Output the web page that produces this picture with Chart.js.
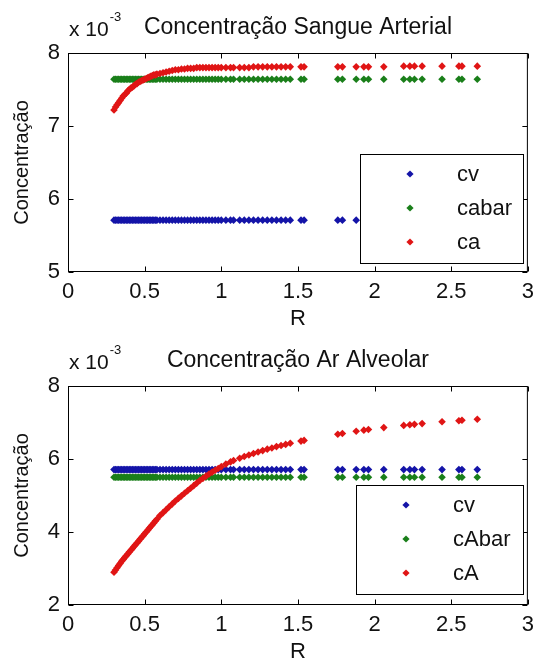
<!DOCTYPE html>
<html>
<head>
<meta charset="utf-8">
<script src="https://cdn.jsdelivr.net/npm/chart.js@4"></script>
<style>
  html, body { margin: 0; padding: 0; background: #fff; }
  canvas { position: absolute; left: 0; }
</style>
</head>
<body>
<canvas id="arterial" width="541" height="333" style="top:0"></canvas>
<canvas id="alveolar" width="541" height="333" style="top:333px"></canvas>
<script>
// R values (same sample for both plots)
const R = [
  0.30, 0.31, 0.32, 0.33, 0.34, 0.35, 0.36, 0.37, 0.38, 0.39,
  0.40, 0.41, 0.42, 0.43, 0.44, 0.45, 0.46, 0.47, 0.48, 0.49,
  0.50, 0.51, 0.52, 0.53, 0.54, 0.55, 0.56, 0.57, 0.58, 0.60,
  0.62, 0.64, 0.66, 0.68, 0.70, 0.72, 0.74, 0.76, 0.78, 0.80,
  0.82, 0.84, 0.86, 0.88, 0.90, 0.92, 0.94, 0.96, 0.98, 1.00,
  1.03, 1.06, 1.08, 1.12, 1.15, 1.18, 1.21, 1.24, 1.27, 1.30,
  1.33, 1.36, 1.39, 1.42, 1.45, 1.52, 1.54, 1.76, 1.79, 1.88,
  1.93, 1.96, 2.06, 2.19, 2.23, 2.26, 2.31, 2.44, 2.55, 2.57,
  2.67
];

// concentrations, all in units of 10^-3
const cvArterial = [
  5.71, 5.71, 5.71, 5.71, 5.71, 5.71, 5.71, 5.71, 5.71, 5.71,
  5.71, 5.71, 5.71, 5.71, 5.71, 5.71, 5.71, 5.71, 5.71, 5.71,
  5.71, 5.71, 5.71, 5.71, 5.71, 5.71, 5.71, 5.71, 5.71, 5.71,
  5.71, 5.71, 5.71, 5.71, 5.71, 5.71, 5.71, 5.71, 5.71, 5.71,
  5.71, 5.71, 5.71, 5.71, 5.71, 5.71, 5.71, 5.71, 5.71, 5.71,
  5.71, 5.71, 5.71, 5.71, 5.71, 5.71, 5.71, 5.71, 5.71, 5.71,
  5.71, 5.71, 5.71, 5.71, 5.71, 5.71, 5.71, 5.71, 5.71, 5.71,
  5.71, 5.71, 5.71, 5.71, 5.71, 5.71, 5.71, 5.71, 5.71, 5.71,
  5.71
];
const cabar = [
  7.64, 7.64, 7.64, 7.64, 7.64, 7.64, 7.64, 7.64, 7.64, 7.64,
  7.64, 7.64, 7.64, 7.64, 7.64, 7.64, 7.64, 7.64, 7.64, 7.64,
  7.64, 7.64, 7.64, 7.64, 7.64, 7.64, 7.64, 7.64, 7.64, 7.64,
  7.64, 7.64, 7.64, 7.64, 7.64, 7.64, 7.64, 7.64, 7.64, 7.64,
  7.64, 7.64, 7.64, 7.64, 7.64, 7.64, 7.64, 7.64, 7.64, 7.64,
  7.64, 7.64, 7.64, 7.64, 7.64, 7.64, 7.64, 7.64, 7.64, 7.64,
  7.64, 7.64, 7.64, 7.64, 7.64, 7.64, 7.64, 7.64, 7.64, 7.64,
  7.64, 7.64, 7.64, 7.64, 7.64, 7.64, 7.64, 7.64, 7.64, 7.64,
  7.64
];
const ca = [
  7.22, 7.26, 7.29, 7.32, 7.35, 7.38, 7.41, 7.43, 7.45, 7.48,
  7.50, 7.52, 7.53, 7.55, 7.57, 7.58, 7.60, 7.61, 7.62, 7.63,
  7.64, 7.65, 7.66, 7.67, 7.68, 7.69, 7.70, 7.70, 7.71, 7.72,
  7.73, 7.74, 7.75, 7.76, 7.77, 7.77, 7.78, 7.78, 7.79, 7.79,
  7.79, 7.80, 7.80, 7.80, 7.80, 7.80, 7.80, 7.80, 7.80, 7.80,
  7.80, 7.80, 7.80, 7.80, 7.80, 7.80, 7.81, 7.81, 7.81, 7.81,
  7.81, 7.81, 7.81, 7.81, 7.81, 7.81, 7.81, 7.81, 7.81, 7.81,
  7.81, 7.81, 7.81, 7.82, 7.82, 7.82, 7.82, 7.82, 7.82, 7.82,
  7.82
];
const cvAlveolar = [
  5.71, 5.71, 5.71, 5.71, 5.71, 5.71, 5.71, 5.71, 5.71, 5.71,
  5.71, 5.71, 5.71, 5.71, 5.71, 5.71, 5.71, 5.71, 5.71, 5.71,
  5.71, 5.71, 5.71, 5.71, 5.71, 5.71, 5.71, 5.71, 5.71, 5.71,
  5.71, 5.71, 5.71, 5.71, 5.71, 5.71, 5.71, 5.71, 5.71, 5.71,
  5.71, 5.71, 5.71, 5.71, 5.71, 5.71, 5.71, 5.71, 5.71, 5.71,
  5.71, 5.71, 5.71, 5.71, 5.71, 5.71, 5.71, 5.71, 5.71, 5.71,
  5.71, 5.71, 5.71, 5.71, 5.71, 5.71, 5.71, 5.71, 5.71, 5.71,
  5.71, 5.71, 5.71, 5.71, 5.71, 5.71, 5.71, 5.71, 5.71, 5.71,
  5.71
];
const cAbar = [
  5.50, 5.50, 5.50, 5.50, 5.50, 5.50, 5.50, 5.50, 5.50, 5.50,
  5.50, 5.50, 5.50, 5.50, 5.50, 5.50, 5.50, 5.50, 5.50, 5.50,
  5.50, 5.50, 5.50, 5.50, 5.50, 5.50, 5.50, 5.50, 5.50, 5.50,
  5.50, 5.50, 5.50, 5.50, 5.50, 5.50, 5.50, 5.50, 5.50, 5.50,
  5.50, 5.50, 5.50, 5.50, 5.50, 5.50, 5.50, 5.50, 5.50, 5.50,
  5.50, 5.50, 5.50, 5.50, 5.50, 5.50, 5.50, 5.50, 5.50, 5.50,
  5.50, 5.50, 5.50, 5.50, 5.50, 5.50, 5.50, 5.50, 5.50, 5.50,
  5.50, 5.50, 5.50, 5.50, 5.50, 5.50, 5.50, 5.50, 5.50, 5.50,
  5.50
];
const cA = [
  2.90, 2.96, 3.02, 3.08, 3.14, 3.20, 3.25, 3.30, 3.35, 3.40,
  3.45, 3.50, 3.55, 3.60, 3.65, 3.70, 3.75, 3.80, 3.85, 3.90,
  3.95, 4.00, 4.05, 4.10, 4.15, 4.20, 4.25, 4.30, 4.35, 4.45,
  4.53, 4.61, 4.69, 4.77, 4.85, 4.92, 4.99, 5.06, 5.13, 5.20,
  5.27, 5.34, 5.41, 5.47, 5.53, 5.59, 5.64, 5.69, 5.74, 5.79,
  5.86, 5.92, 5.96, 6.02, 6.07, 6.11, 6.15, 6.19, 6.23, 6.27,
  6.30, 6.34, 6.37, 6.40, 6.43, 6.49, 6.51, 6.68, 6.70, 6.76,
  6.79, 6.81, 6.86, 6.92, 6.94, 6.95, 6.97, 7.02, 7.05, 7.06,
  7.09
];

const xTicks = [0, 0.5, 1, 1.5, 2, 2.5, 3];
const yTicksArterial = [5, 6, 7, 8];
const yTicksAlveolar = [2, 4, 6, 8];

const BLUE = '#1414a8';
const GREEN = '#1a7f1a';
const RED = '#e01515';
const FONT = '"Liberation Sans", Arial, sans-serif';

function diamond(ctx, x, y, r) {
    ctx.beginPath();
    ctx.moveTo(x, y - r);
    ctx.lineTo(x + r, y);
    ctx.lineTo(x, y + r);
    ctx.lineTo(x - r, y);
    ctx.closePath();
    ctx.fill();
}

// MATLAB-like box, inward ticks, title with exponent, and legend
const matlabAxes = {
    id: 'matlabAxes',
    afterDraw(chart, args, opts) {
        const { ctx, chartArea: a, scales: { x, y } } = chart;
        ctx.save();
        ctx.strokeStyle = '#000';
        ctx.lineWidth = 1;
        const L = a.left + 0.5, T = a.top + 0.5, Rt = a.right - 0.5, B = a.bottom - 0.5;
        ctx.strokeRect(L, T, Rt - L, B - T);
        ctx.beginPath();
        x.ticks.forEach(t => {
            const px = Math.round(x.getPixelForValue(t.value)) + 0.5;
            ctx.moveTo(px, B); ctx.lineTo(px, B - 5);
            ctx.moveTo(px, T); ctx.lineTo(px, T + 5);
        });
        y.ticks.forEach(t => {
            const py = Math.round(y.getPixelForValue(t.value)) + 0.5;
            ctx.moveTo(L, py); ctx.lineTo(L + 5, py);
            ctx.moveTo(Rt, py); ctx.lineTo(Rt - 5, py);
        });
        ctx.stroke();

        // title
        ctx.fillStyle = '#111';
        ctx.textBaseline = 'alphabetic';
        ctx.textAlign = 'center';
        ctx.font = '23px ' + FONT;
        ctx.fillText(opts.title, (a.left + a.right) / 2, a.top - 19);

        // exponent label
        ctx.textAlign = 'left';
        ctx.font = '21px ' + FONT;
        const base = 'x 10';
        ctx.fillText(base, a.left + 1, a.top - 17);
        const w = ctx.measureText(base).width;
        ctx.font = '13px ' + FONT;
        ctx.fillText('-3', a.left + 2 + w, a.top - 32);

        // legend
        const lg = opts.legend;
        ctx.fillStyle = '#fff';
        ctx.fillRect(lg.x, lg.y, lg.w, lg.h);
        ctx.strokeStyle = '#000';
        ctx.strokeRect(lg.x + 0.5, lg.y + 0.5, lg.w, lg.h);
        ctx.font = '22px ' + FONT;
        ctx.textBaseline = 'middle';
        chart.data.datasets.forEach((ds, i) => {
            const yy = lg.y + lg.first + i * lg.step;
            ctx.fillStyle = ds.backgroundColor;
            diamond(ctx, lg.x + 50, yy, 3.6);
            ctx.fillStyle = '#111';
            ctx.fillText(ds.label, lg.x + 97, yy + 1);
        });
        ctx.restore();
    }
};

function makeChart(id, series, labels, yMin, yMax, yTicks, title, legend) {
    const colors = [BLUE, GREEN, RED];
    const datasets = series.map((vals, i) => ({
        label: labels[i],
        data: R.map((r, k) => ({ x: r, y: vals[k] })),
        backgroundColor: colors[i],
        borderWidth: 0,
        pointStyle: 'rectRot',
        pointRadius: 3.8,
        pointHoverRadius: 3.8,
        order: 3 - i
    }));
    return new Chart(document.getElementById(id), {
        type: 'scatter',
        data: { datasets },
        options: {
            responsive: false,
            animation: false,
            events: [],
            layout: { padding: { top: 53, right: 8, left: 0, bottom: 0 } },
            plugins: {
                legend: { display: false },
                tooltip: { enabled: false },
                matlabAxes: { title, legend }
            },
            scales: {
                x: {
                    type: 'linear',
                    min: 0, max: 3,
                    afterBuildTicks: s => { s.ticks = xTicks.map(v => ({ value: v })); },
                    afterFit: s => { s.height = 61; },
                    grid: { display: false, drawTicks: false },
                    border: { display: false },
                    ticks: {
                        color: '#111', padding: 7, font: { family: FONT, size: 22 },
                        maxRotation: 0, autoSkip: false,
                        callback: v => String(v)
                    },
                    title: { display: true, text: 'R', color: '#111', font: { family: FONT, size: 22 }, padding: { top: 0, bottom: 1 } }
                },
                y: {
                    type: 'linear',
                    min: yMin, max: yMax,
                    afterBuildTicks: s => { s.ticks = yTicks.map(v => ({ value: v })); },
                    afterFit: s => { s.width = 68; },
                    grid: { display: false, drawTicks: false },
                    border: { display: false },
                    ticks: { color: '#111', padding: 8, font: { family: FONT, size: 22 }, callback: v => String(v) },
                    title: { display: true, text: 'Concentração', color: '#111', font: { family: FONT, size: 20 }, padding: { top: 10, bottom: 0 } }
                }
            }
        },
        plugins: [matlabAxes]
    });
}

makeChart('arterial', [cvArterial, cabar, ca], ['cv', 'cabar', 'ca'], 5, 8, yTicksArterial,
    'Concentração Sangue Arterial', { x: 360, y: 154, w: 163, h: 109, first: 20, step: 34 });
makeChart('alveolar', [cvAlveolar, cAbar, cA], ['cv', 'cAbar', 'cA'], 2, 8, yTicksAlveolar,
    'Concentração Ar Alveolar', { x: 356, y: 152, w: 167, h: 109, first: 20, step: 34 });
</script>
</body>
</html>
